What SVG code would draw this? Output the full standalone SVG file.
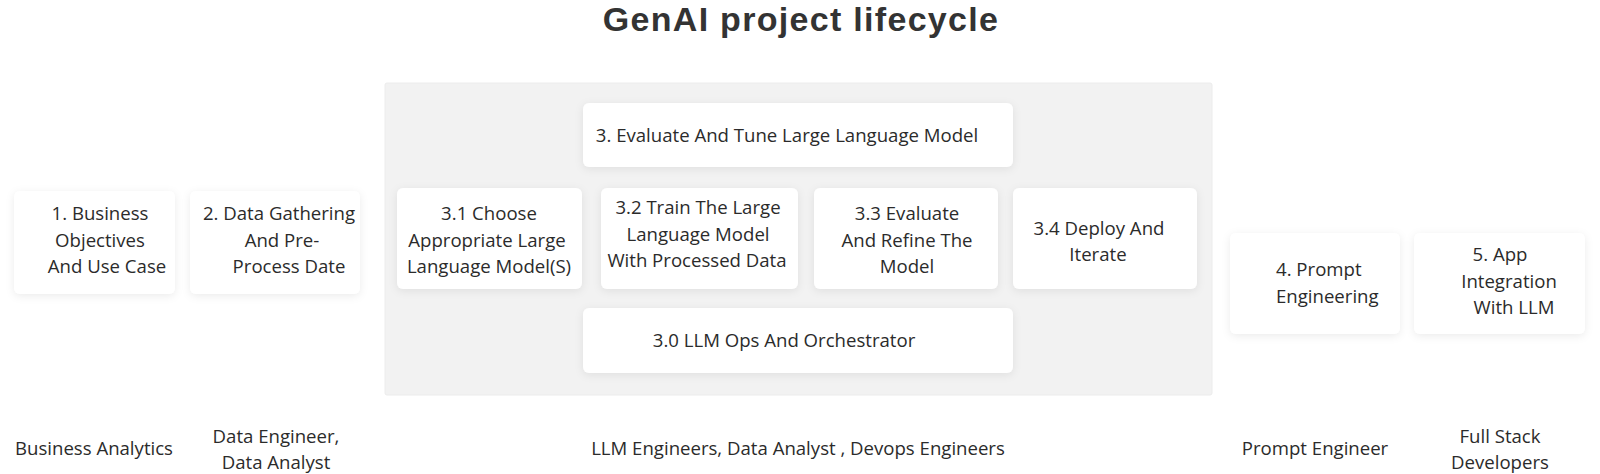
<svg xmlns="http://www.w3.org/2000/svg" width="1600" height="474" viewBox="0 0 1600 474">
<defs>
<filter id="sh" x="-20%" y="-20%" width="140%" height="150%">
<feDropShadow dx="0" dy="2" stdDeviation="4" flood-color="#000" flood-opacity="0.08"/>
</filter>
<style>
.card{fill:#ffffff;filter:url(#sh);}
.panel{fill:#f2f2f2;stroke:#ececec;stroke-width:1;}
text{font-family:"Open Sans","Noto Sans",sans-serif;fill:#2b2b2b;font-size:18.6px;text-anchor:middle;}
.title{font-family:"Liberation Sans",Arial,sans-serif;font-size:34px;font-weight:700;letter-spacing:1.3px;fill:#333333;}
.left{text-anchor:start;}
</style>
</defs>
<rect width="1600" height="474" fill="#ffffff"/>
<text class="title" x="801" y="31">GenAI project lifecycle</text>

<g id="panel3">
<rect class="panel" x="385" y="83" width="827" height="312" rx="2"/>
</g>

<g id="node1">
<rect class="card" x="14" y="191" width="161" height="103" rx="6"/>
<text x="100" y="220">1. Business</text>
<text x="100" y="247">Objectives</text>
<text x="107" y="273">And Use Case</text>
</g>
<g id="node2">
<rect class="card" x="190" y="191" width="170" height="103" rx="6"/>
<text x="279" y="220">2. Data Gathering</text>
<text x="282" y="247">And Pre-</text>
<text x="289" y="273">Process Date</text>
</g>
<g id="node3">
<rect class="card" x="583" y="103" width="430" height="64" rx="6"/>
<text x="787" y="142">3. Evaluate And Tune Large Language Model</text>
</g>
<g id="node31">
<rect class="card" x="397" y="188" width="185" height="101" rx="6"/>
<text x="489" y="220">3.1 Choose</text>
<text x="487" y="247">Appropriate Large</text>
<text x="489" y="273">Language Model(S)</text>
</g>
<g id="node32">
<rect class="card" x="601" y="188" width="197" height="101" rx="6"/>
<text x="698" y="214">3.2 Train The Large</text>
<text x="698" y="241">Language Model</text>
<text x="697" y="267">With Processed Data</text>
</g>
<g id="node33">
<rect class="card" x="814" y="188" width="184" height="101" rx="6"/>
<text x="907" y="220">3.3 Evaluate</text>
<text x="907" y="247">And Refine The</text>
<text x="907" y="273">Model</text>
</g>
<g id="node34">
<rect class="card" x="1013" y="188" width="184" height="101" rx="6"/>
<text x="1099" y="235">3.4 Deploy And</text>
<text x="1098" y="261">Iterate</text>
</g>
<g id="node30">
<rect class="card" x="583" y="308" width="430" height="65" rx="6"/>
<text x="784" y="347">3.0 LLM Ops And Orchestrator</text>
</g>
<g id="node4">
<rect class="card" x="1230" y="233" width="170" height="101" rx="6"/>
<text class="left" x="1276" y="276">4. Prompt</text>
<text class="left" x="1276" y="303">Engineering</text>
</g>
<g id="node5">
<rect class="card" x="1414" y="233" width="171" height="101" rx="6"/>
<text x="1500" y="261">5. App</text>
<text x="1509" y="288">Integration</text>
<text x="1514" y="314">With LLM</text>
</g>

<g id="connectors"></g>

<g id="roles">
<text x="94" y="455">Business Analytics</text>
<text x="276" y="443">Data Engineer,</text>
<text x="276" y="469">Data Analyst</text>
<text x="798" y="455">LLM Engineers, Data Analyst , Devops Engineers</text>
<text x="1315" y="455">Prompt Engineer</text>
<text x="1500" y="443">Full Stack</text>
<text x="1500" y="469">Developers</text>
</g>
</svg>
